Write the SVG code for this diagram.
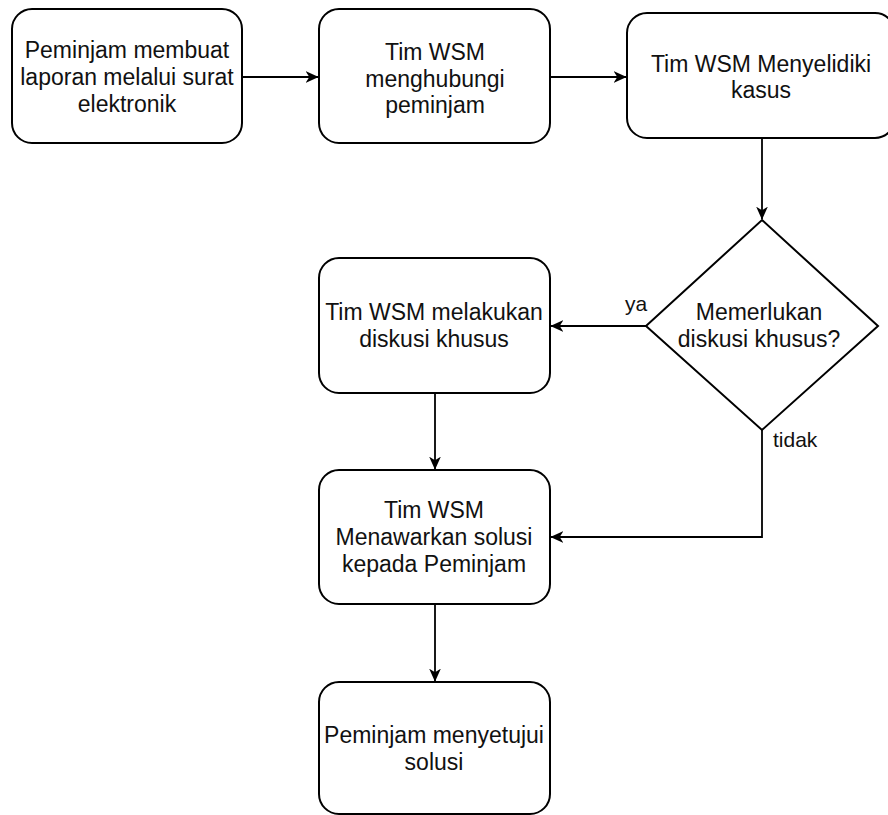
<svg xmlns="http://www.w3.org/2000/svg" width="888" height="815" viewBox="0 0 888 815">
<style>
.box{fill:#fff;stroke:#000;stroke-width:2}
.t{font-family:"Liberation Sans",Arial,sans-serif;font-size:23px;fill:#111;text-anchor:middle}
.lbl{font-family:"Liberation Sans",Arial,sans-serif;font-size:21px;fill:#111}
.c{fill:none;stroke:#000;stroke-width:1.8}
</style>
<defs>
<marker id="arr" viewBox="0 0 10 10" markerWidth="13" markerHeight="13" refX="9.5" refY="5" orient="auto" markerUnits="userSpaceOnUse">
<path d="M0,0.5 L10,5 L0,9.5 L2.8,5 Z" fill="#000"/>
</marker>
</defs>
<rect width="888" height="815" fill="#fff"/>
<g id="connectors">
<path class="c" d="M242,77 L318,77" marker-end="url(#arr)"/>
<path class="c" d="M550,77 L626,77" marker-end="url(#arr)"/>
<path class="c" d="M762,138 L762,219" marker-end="url(#arr)"/>
<path class="c" d="M646,326 L551,326" marker-end="url(#arr)"/>
<path class="c" d="M435,393 L435,469" marker-end="url(#arr)"/>
<path class="c" d="M762,430 L762,537 L551,537" marker-end="url(#arr)"/>
<path class="c" d="M435,604 L435,681" marker-end="url(#arr)"/>
<text class="lbl" x="625" y="311">ya</text>
<text class="lbl" x="773" y="447">tidak</text>
</g>
<g id="n1">
<rect class="box" x="12" y="9" width="230" height="134" rx="20"/>
<text class="t" x="127" y="58">Peminjam membuat</text>
<text class="t" x="127" y="85">laporan melalui surat</text>
<text class="t" x="127" y="112">elektronik</text>
</g>
<g id="n2">
<rect class="box" x="319" y="9" width="231" height="134" rx="20"/>
<text class="t" x="435" y="60">Tim WSM</text>
<text class="t" x="435" y="87">menghubungi</text>
<text class="t" x="435" y="113">peminjam</text>
</g>
<g id="n3">
<rect class="box" x="627" y="13" width="268" height="125" rx="20"/>
<text class="t" x="761" y="72">Tim WSM Menyelidiki</text>
<text class="t" x="761" y="98">kasus</text>
</g>
<g id="d1">
<polygon class="box" points="762,220 878,326 762,430 646,326"/>
<text class="t" x="759" y="320">Memerlukan</text>
<text class="t" x="759" y="347">diskusi khusus?</text>
</g>
<g id="n4">
<rect class="box" x="319" y="258" width="231" height="135" rx="20"/>
<text class="t" x="434" y="320">Tim WSM melakukan</text>
<text class="t" x="434" y="347">diskusi khusus</text>
</g>
<g id="n5">
<rect class="box" x="319" y="470" width="231" height="134" rx="20"/>
<text class="t" x="434" y="518">Tim WSM</text>
<text class="t" x="434" y="545">Menawarkan solusi</text>
<text class="t" x="434" y="572">kepada Peminjam</text>
</g>
<g id="n6">
<rect class="box" x="319" y="682" width="231" height="132" rx="20"/>
<text class="t" x="434" y="743">Peminjam menyetujui</text>
<text class="t" x="434" y="770">solusi</text>
</g>
</svg>
